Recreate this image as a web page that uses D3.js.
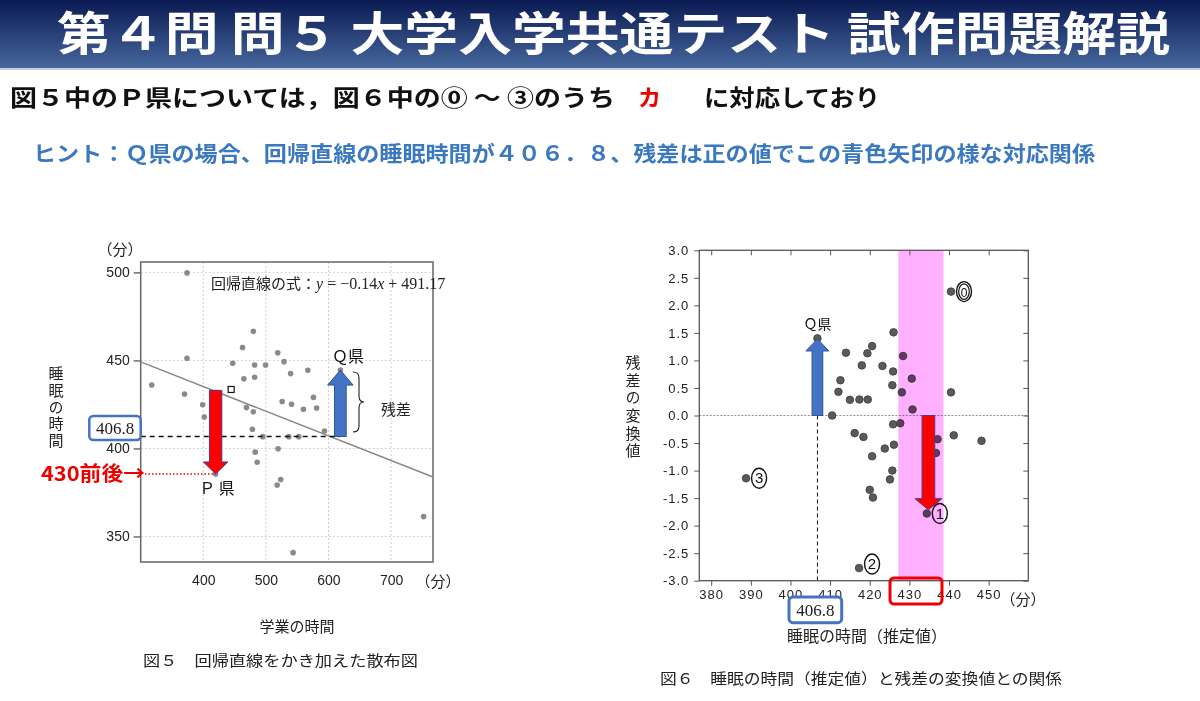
<!DOCTYPE html>
<html><head><meta charset="utf-8">
<script src="https://cdn.jsdelivr.net/npm/d3@7"></script>
<style>body{margin:0;background:#fff}</style>
</head><body>
<script>
// 図5: 学業の時間 vs 睡眠の時間 (分)
const studyTime = [374, 374, 317.6, 370, 399, 401.6, 480, 462.7, 447, 482, 499.5, 519, 529, 464.8, 482, 539.5, 567, 576, 526, 541, 560, 581, 469, 480, 478.4, 495, 536.5, 552.5, 593.6, 519.5, 483, 486, 523.7, 518, 752, 543.5, 419.7, 619];
const sleepTime = [499.7, 451.2, 436, 430.9, 424.8, 417.9, 466.5, 457.3, 448.4, 447.4, 447.4, 454.3, 449.3, 439.6, 440.4, 442.5, 444.4, 429, 426.7, 425.1, 422.3, 423, 423.2, 420.8, 410.9, 406.7, 406.7, 406.7, 409.9, 399.8, 397.9, 392.2, 382.3, 379.2, 361.3, 340.8, 385.5, 444.5];
const slope = -0.14, intercept = 491.17;
const xTicksL = [400, 500, 600, 700];
const yTicksL = [350, 400, 450, 500];

// 図6: 睡眠の時間(推定値) vs 残差の変換値
const predSleep = [440.5, 406.8, 426.0, 414.0, 419.4, 420.6, 418.0, 423.2, 425.9, 412.6, 412.1, 415.0, 417.4, 419.5, 425.7, 428.4, 430.6, 428.1, 430.8, 440.5, 410.5, 427.7, 425.9, 416.2, 418.4, 441.2, 448.2, 437.1, 436.7, 426.1, 423.8, 420.6, 425.7, 425.1, 420.0, 420.8, 388.8, 434.4, 417.3];
const residual = [2.25, 1.40, 1.51, 1.14, 1.13, 1.26, 0.91, 0.90, 0.80, 0.64, 0.43, 0.285, 0.29, 0.29, 0.55, 1.08, 0.67, 0.42, 0.11, 0.42, 0.0, -0.14, -0.16, -0.32, -0.39, -0.36, -0.46, -0.43, -0.68, -0.53, -0.60, -0.74, -1.00, -1.16, -1.35, -1.49, -1.14, -1.78, -2.77];
const xTicksR = [380, 390, 400, 410, 420, 430, 440, 450];
const yTicksR = [-3, -2.5, -2, -1.5, -1, -0.5, 0, 0.5, 1, 1.5, 2, 2.5, 3];
const choiceLabels = ['0', '1', '2', '3'];
const choiceX = [440.5, 434.4, 417.3, 388.8];
const choiceY = [2.25, -1.78, -2.77, -1.14];

// 注目値
const qFit = 406.8, qStudy = 619, qSleep = 444.5;
const pStudy = 419.7, pSleep = 385.5, pFit = 433;
const bandRange = [427.2, 438.6];
const qResid = 1.39, pPred = 434.8, pResid = -1.71;

const JP = "'Noto Sans CJK JP', sans-serif";
const svg = d3.select('body').append('svg')
    .attr('width', 1200).attr('height', 701)
    .style('font-family', JP);

// ---- header ----
const grad = svg.append('defs').append('linearGradient')
    .attr('id', 'hdr').attr('x1', 0).attr('y1', 0).attr('x2', 0).attr('y2', 1);
grad.append('stop').attr('offset', 0).attr('stop-color', '#0a1a52');
grad.append('stop').attr('offset', 1).attr('stop-color', '#46679c');
svg.append('rect').attr('width', 1200).attr('height', 68).attr('fill', 'url(#hdr)');
svg.append('rect').attr('y', 68).attr('width', 1200).attr('height', 2).attr('fill', '#c5d0e4');
svg.append('text').attr('x', 57).attr('y', 50)
    .attr('font-size', 46).attr('font-weight', 'bold').attr('fill', '#fff')
    .attr('textLength', 1113).attr('lengthAdjust', 'spacingAndGlyphs')
    .text('第４問 問５ 大学入学共通テスト 試作問題解説');

svg.append('text').attr('x', 10).attr('y', 106)
    .attr('font-size', 23).attr('font-weight', 'bold').attr('fill', '#111')
    .attr('textLength', 605).attr('lengthAdjust', 'spacingAndGlyphs')
    .text('図５中のＰ県については，図６中の⓪ 〜 ③のうち');
svg.append('text').attr('x', 638).attr('y', 106)
    .attr('font-size', 23).attr('font-weight', 'bold').attr('fill', '#e00')
    .text('カ');
svg.append('text').attr('x', 704).attr('y', 106)
    .attr('font-size', 23).attr('font-weight', 'bold').attr('fill', '#111')
    .attr('textLength', 176).attr('lengthAdjust', 'spacingAndGlyphs')
    .text('に対応しており');
svg.append('text').attr('x', 33).attr('y', 161)
    .attr('font-size', 21).attr('font-weight', 'bold').attr('fill', '#3a78c0')
    .attr('textLength', 1062).attr('lengthAdjust', 'spacingAndGlyphs')
    .text('ヒント：Ｑ県の場合、回帰直線の睡眠時間が４０６．８、残差は正の値でこの青色矢印の様な対応関係');

function vArrow(cx, y0, y1, sw, hw, hl) {
    const dir = y1 > y0 ? 1 : -1, base = y1 - dir * hl;
    return d3.line()([[cx - sw / 2, y0], [cx - sw / 2, base], [cx - hw / 2, base], [cx, y1],
        [cx + hw / 2, base], [cx + sw / 2, base], [cx + sw / 2, y0]]) + 'Z';
}

// ---- 図5 ----
const xL = d3.scaleLinear().domain([300, 767]).range([140.7, 433]);
const yL = d3.scaleLinear().domain([335.5, 505.9]).range([562, 262]);
const gL = svg.append('g');

gL.selectAll('.gx').data(xTicksL).enter().append('line')
    .attr('x1', d => xL(d)).attr('x2', d => xL(d)).attr('y1', 262).attr('y2', 562)
    .attr('stroke', '#d0d0d0').attr('stroke-dasharray', '2,2');
gL.selectAll('.gy').data(yTicksL).enter().append('line')
    .attr('x1', 140.7).attr('x2', 433).attr('y1', d => yL(d)).attr('y2', d => yL(d))
    .attr('stroke', '#d0d0d0').attr('stroke-dasharray', '2,2');

const axL = gL.append('g').attr('transform', 'translate(140.7,0)')
    .call(d3.axisLeft(yL).tickValues(yTicksL).tickSize(7).tickPadding(4));
axL.select('.domain').remove();
axL.selectAll('line').attr('stroke', '#555').attr('stroke-width', 1.3);
axL.selectAll('text').attr('font-size', 14).attr('font-family', 'Liberation Sans, Arial').attr('fill', '#222');
const axB = gL.append('g').attr('transform', 'translate(0,562)')
    .call(d3.axisBottom(xL).tickValues(xTicksL).tickSize(0).tickPadding(13));
axB.select('.domain').remove();
axB.selectAll('text').attr('font-size', 14).attr('font-family', 'Liberation Sans, Arial').attr('fill', '#222');

gL.append('rect').attr('x', 140.7).attr('y', 262).attr('width', 433 - 140.7).attr('height', 300)
    .attr('fill', 'none').attr('stroke', '#666').attr('stroke-width', 1.5);

gL.append('line')
    .attr('x1', xL(300)).attr('y1', yL(slope * 300 + intercept))
    .attr('x2', xL(767)).attr('y2', yL(slope * 767 + intercept))
    .attr('stroke', '#888').attr('stroke-width', 1.6);

gL.selectAll('.pt').data(studyTime).enter().append('circle')
    .attr('cx', d => xL(d)).attr('cy', (d, i) => yL(sleepTime[i]))
    .attr('r', 2.8).attr('fill', '#8a8a8a');

gL.append('rect').attr('x', xL(444.5) - 3).attr('y', yL(433.5) - 3).attr('width', 6).attr('height', 6)
    .attr('fill', '#fff').attr('stroke', '#111').attr('stroke-width', 1.2);

gL.append('line').attr('x1', xL(300)).attr('x2', xL(qStudy))
    .attr('y1', yL(qFit)).attr('y2', yL(qFit))
    .attr('stroke', '#111').attr('stroke-width', 1.6).attr('stroke-dasharray', '5,4');
gL.append('line').attr('x1', 145).attr('x2', xL(pStudy))
    .attr('y1', yL(pSleep)).attr('y2', yL(pSleep))
    .attr('stroke', '#e00').attr('stroke-width', 1.6).attr('stroke-dasharray', '1.5,2');

gL.append('path').attr('d', vArrow(xL(pStudy), yL(pFit), yL(pSleep), 12.4, 24.4, 12))
    .attr('fill', '#ff0000').attr('stroke', '#4a3a8a').attr('stroke-width', 1);
gL.append('path').attr('d', vArrow(xL(qStudy), yL(qFit), yL(qSleep), 11.7, 25.4, 15))
    .attr('fill', '#4472c4').attr('stroke', '#2f5597').attr('stroke-width', 1);

gL.append('path').attr('d', 'M353,372 q6,0 6,6 v18 q0,6 5,6 q-5,0 -5,6 v18 q0,6 -6,6')
    .attr('fill', 'none').attr('stroke', '#222').attr('stroke-width', 1.1);

gL.append('text').attr('x', 120).attr('y', 255).attr('text-anchor', 'middle')
    .attr('font-size', 15).attr('fill', '#222').text('（分）');
gL.append('text').attr('x', 438).attr('y', 587).attr('text-anchor', 'middle')
    .attr('font-size', 15).attr('fill', '#222').text('（分）');

const fml = gL.append('text').attr('x', 211).attr('y', 289).attr('font-size', 15).attr('fill', '#222');
fml.append('tspan').text('回帰直線の式：');
fml.append('tspan').attr('font-family', "'Liberation Serif', serif").attr('font-size', 16)
    .html('<tspan font-style="italic">y</tspan> = −0.14<tspan font-style="italic">x</tspan> + 491.17');

gL.append('text').attr('x', 348).attr('y', 362).attr('text-anchor', 'middle')
    .attr('font-size', 16).attr('fill', '#111').text('Ｑ県');
gL.append('text').attr('x', 217).attr('y', 494).attr('text-anchor', 'middle')
    .attr('font-size', 16).attr('fill', '#111').text('Ｐ 県');
gL.append('text').attr('x', 396).attr('y', 415).attr('text-anchor', 'middle')
    .attr('font-size', 15).attr('fill', '#222').text('残差');

// vertical axis titles as single vertical text
gL.append('text').attr('x', 56).attr('y', 366)
    .style('writing-mode', 'vertical-rl').attr('letter-spacing', 1.7)
    .attr('font-size', 15).attr('fill', '#222').text('睡眠の時間');

gL.append('rect').attr('x', 89.3).attr('y', 416).attr('width', 51.4).attr('height', 24).attr('rx', 4)
    .attr('fill', '#fff').attr('stroke', '#4472c4').attr('stroke-width', 2.5);
gL.append('text').attr('x', 115).attr('y', 433.5).attr('text-anchor', 'middle')
    .attr('font-family', "'Liberation Serif', serif").attr('font-size', 17).attr('fill', '#222').text('406.8');

gL.append('text').attr('x', 41).attr('y', 481)
    .attr('font-size', 20).attr('font-weight', 'bold').attr('fill', '#e00')
    .attr('textLength', 104).attr('lengthAdjust', 'spacingAndGlyphs').text('430前後→');

gL.append('text').attr('x', 297).attr('y', 632).attr('text-anchor', 'middle')
    .attr('font-size', 15).attr('fill', '#222').text('学業の時間');
gL.append('text').attr('x', 143).attr('y', 666)
    .attr('font-size', 15).attr('fill', '#222')
    .attr('textLength', 275).attr('lengthAdjust', 'spacingAndGlyphs').text('図５　回帰直線をかき加えた散布図');

// ---- 図6 ----
const xR = d3.scaleLinear().domain([377, 460]).range([699.3, 1028.3]);
const yR = d3.scaleLinear().domain([-3, 3]).range([580.7, 250.3]);
const gR = svg.append('g');
const fmt = d => d3.format('.1f')(d).replace('−', '-');

gR.append('line').attr('x1', 699.3).attr('x2', 1028.3).attr('y1', yR(0)).attr('y2', yR(0))
    .attr('stroke', '#777').attr('stroke-width', 0.8).attr('stroke-dasharray', '2,1.5');
gR.append('line').attr('x1', xR(qFit)).attr('x2', xR(qFit)).attr('y1', yR(0)).attr('y2', 580.7)
    .attr('stroke', '#111').attr('stroke-width', 1).attr('stroke-dasharray', '4,3');

gR.selectAll('.pt').data(predSleep).enter().append('circle')
    .attr('cx', d => xR(d)).attr('cy', (d, i) => yR(residual[i]))
    .attr('r', 3.8).attr('fill', '#5a5a5a').attr('stroke', '#3a3a3a').attr('stroke-width', 0.8);

gR.append('rect').attr('x', xR(bandRange[0])).attr('y', 250.3)
    .attr('width', xR(bandRange[1]) - xR(bandRange[0])).attr('height', 330.4)
    .attr('fill', '#ffb0ff').style('mix-blend-mode', 'multiply');

const axRL = gR.append('g').attr('transform', 'translate(699.3,0)')
    .call(d3.axisLeft(yR).tickValues(yTicksR).tickSize(5).tickPadding(5).tickFormat(fmt));
const axRR = gR.append('g').attr('transform', 'translate(1028.3,0)')
    .call(d3.axisLeft(yR).tickValues(yTicksR).tickSize(5).tickFormat(''));
const axRB = gR.append('g').attr('transform', 'translate(0,580.7)')
    .call(d3.axisBottom(xR).tickValues(xTicksR).tickSize(5).tickPadding(4).tickFormat(d3.format('d')));
const axRT = gR.append('g').attr('transform', 'translate(0,250.3)')
    .call(d3.axisBottom(xR).tickValues(xTicksR).tickSize(5).tickFormat(''));
[axRL, axRR, axRB, axRT].forEach(a => {
    a.select('.domain').remove();
    a.selectAll('line').attr('stroke', '#555');
    a.selectAll('text').attr('font-size', 13).attr('font-family', 'Liberation Sans, Arial')
        .attr('fill', '#222').attr('letter-spacing', 1);
});
gR.append('rect').attr('x', 699.3).attr('y', 250.3).attr('width', 329).attr('height', 330.4)
    .attr('fill', 'none').attr('stroke', '#555').attr('stroke-width', 1.3);

gR.append('path').attr('d', vArrow(xR(pPred), yR(0), yR(pResid), 12.7, 27, 11))
    .attr('fill', '#ff0000').attr('stroke', '#4a3a8a').attr('stroke-width', 1);
gR.append('path').attr('d', vArrow(xR(qFit), yR(0), yR(qResid), 10.7, 23, 12))
    .attr('fill', '#4472c4').attr('stroke', '#2f5597').attr('stroke-width', 1);
gR.append('text').attr('x', xR(qFit)).attr('y', 329).attr('text-anchor', 'middle')
    .attr('font-size', 14).attr('fill', '#111').text('Ｑ県');

const ch = gR.selectAll('.ch').data(choiceLabels).enter().append('g')
    .attr('transform', (d, i) => `translate(${xR(choiceX[i]) + 13},${yR(choiceY[i]) + (i === 2 ? -4 : 0)})`);
ch.append('ellipse').attr('rx', 7.5).attr('ry', 10)
    .attr('fill', 'none').attr('stroke', '#111').attr('stroke-width', 1.4);
ch.filter(d => d === '0').append('ellipse').attr('rx', 5.3).attr('ry', 7.8)
    .attr('fill', 'none').attr('stroke', '#111').attr('stroke-width', 1.2);
ch.append('text').attr('text-anchor', 'middle').attr('y', 5)
    .attr('font-size', d => d === '0' ? 12 : 15).attr('font-family', 'Liberation Sans, Arial')
    .attr('fill', '#111').text(d => d);

gR.append('text').attr('x', 633).attr('y', 355)
    .style('writing-mode', 'vertical-rl').attr('letter-spacing', 2.6)
    .attr('font-size', 15).attr('fill', '#222').text('残差の変換値');

gR.append('text').attr('x', 1023).attr('y', 605).attr('text-anchor', 'middle')
    .attr('font-size', 15).attr('fill', '#222').text('（分）');
gR.append('rect').attr('x', 789).attr('y', 597).attr('width', 52.7).attr('height', 25.7).attr('rx', 4)
    .attr('fill', '#fff').attr('stroke', '#4472c4').attr('stroke-width', 3);
gR.append('text').attr('x', 815.3).attr('y', 615.5).attr('text-anchor', 'middle')
    .attr('font-family', "'Liberation Serif', serif").attr('font-size', 17).attr('fill', '#222').text('406.8');
gR.append('rect').attr('x', 890).attr('y', 578).attr('width', 52).attr('height', 26).attr('rx', 4)
    .attr('fill', 'none').attr('stroke', '#e00').attr('stroke-width', 3);
gR.append('text').attr('x', 867).attr('y', 642).attr('text-anchor', 'middle')
    .attr('font-size', 16).attr('fill', '#222').text('睡眠の時間（推定値）');
gR.append('text').attr('x', 660).attr('y', 684)
    .attr('font-size', 15).attr('fill', '#222')
    .attr('textLength', 402).attr('lengthAdjust', 'spacingAndGlyphs').text('図６　睡眠の時間（推定値）と残差の変換値との関係');
</script>
</body></html>
